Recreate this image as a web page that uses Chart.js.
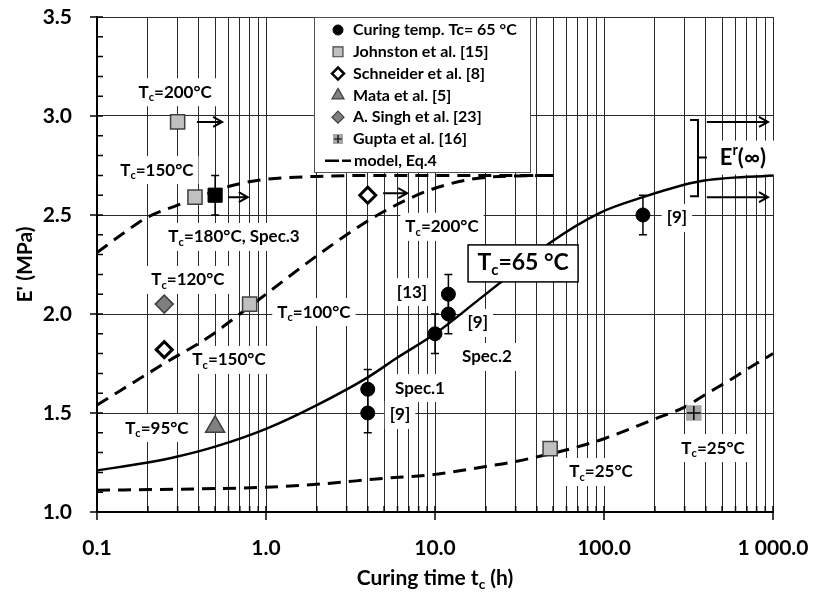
<!DOCTYPE html>
<html lang="en">
<head>
<meta charset="UTF-8">
<title>E' versus curing time</title>
<script src="https://cdn.jsdelivr.net/npm/chart.js@4.4.0/dist/chart.umd.min.js"></script>
<style>
  body { margin: 0; background: #fff; }
  canvas { display: block; }
</style>
</head>
<body>
<canvas id="chart" width="813" height="599"></canvas>
<script>
// curing temp. Tc = 65 °C
const cureT = [4, 4, 10, 12, 12, 170];
const cureE = [1.62, 1.5, 1.9, 2.0, 2.1, 2.5];
const cureErr = [0.1, 0.1, 0.1, 0.1, 0.1, 0.1];
// Tc = 180 °C, Spec.3
const spec3T = [0.5];
const spec3E = [2.6];
const spec3Err = [0.1];
// literature
const johnstonT = [0.3, 0.38, 0.8, 48];
const johnstonE = [2.97, 2.59, 2.05, 1.32];
const schneiderT = [0.25, 4];
const schneiderE = [1.82, 2.6];
const mataT = [0.5];
const mataE = [1.43];
const singhT = [0.25];
const singhE = [2.05];
const guptaT = [340];
const guptaE = [1.5];

// model, Eq.4
const model65T = [0.1, 0.2, 0.3, 0.5, 1, 2, 4, 6, 10, 18, 30, 48, 94, 170, 370, 1000];
const model65E = [1.21, 1.25, 1.28, 1.33, 1.42, 1.54, 1.68, 1.78, 1.9, 2.07, 2.22, 2.36, 2.51, 2.59, 2.67, 2.7];
const modelHighT = [0.1, 0.15, 0.2, 0.3, 0.4, 0.64, 1, 2, 5, 50];
const modelHighE = [2.31, 2.42, 2.49, 2.55, 2.59, 2.65, 2.68, 2.695, 2.7, 2.7];
const modelMidT = [0.1, 0.25, 0.47, 0.7, 1, 1.7, 3, 4.8, 9.6, 20, 50];
const modelMidE = [1.54, 1.75, 1.89, 2.0, 2.1, 2.25, 2.4, 2.51, 2.63, 2.69, 2.7];
const modelLowT = [0.1, 0.3, 1, 2, 5, 10, 20, 28, 41, 64, 100, 200, 300, 410, 540, 730, 1000];
const modelLowE = [1.11, 1.115, 1.125, 1.14, 1.17, 1.19, 1.23, 1.25, 1.28, 1.32, 1.37, 1.47, 1.53, 1.6, 1.66, 1.73, 1.8];

// axes
const xTickValues = [0.1, 1, 10, 100, 1000];
const xTickLabels = ['0.1', '1.0', '10.0', '100.0', '1 000.0'];
const yTickValues = [1.0, 1.5, 2.0, 2.5, 3.0, 3.5];
const yTickLabels = ['1.0', '1.5', '2.0', '2.5', '3.0', '3.5'];

// annotations ( _ = subscript, ^ = superscript for next char )
const noteText = ['T_c=200°C', 'T_c=150°C', 'T_c=180°C, Spec.3', 'T_c=120°C', 'T_c=100°C',
  'T_c=150°C', 'T_c=95°C', 'T_c=200°C', '[13]', '[9]', 'Spec.2', 'Spec.1', '[9]', '[9]',
  'T_c=25°C', 'T_c=25°C'];
const noteT = [0.29, 0.226, 0.647, 0.345, 1.92, 0.604, 0.226, 11.0, 7.31, 17.9, 20.3, 8.15, 6.21, 270, 96, 442];
const noteE = [3.12, 2.727, 2.389, 2.172, 2.01, 1.768, 1.424, 2.44, 2.111, 1.955, 1.783, 1.626, 1.49, 2.485, 1.202, 1.323];

// arrows toward longer curing time
const arrowFrom = [0.39, 0.596, 4.93, 406, 406];
const arrowTo = [0.55, 0.78, 6.85, 934, 934];
const arrowE = [2.97, 2.59, 2.61, 2.97, 2.59];

const legendLabels = ['Curing temp. Tc= 65 °C', 'Johnston et al. [15]', 'Schneider et al. [8]',
  'Mata et al. [5]', 'A. Singh et al. [23]', 'Gupta et al. [16]', 'model, Eq.4'];

const FONT = 'Lato, "Open Sans", sans-serif';
const xy = (ts, es) => ts.map((t, i) => ({ x: t, y: es[i] }));

const logTicks = [];
for (let d = -1; d <= 2; d++) {
  for (let k = 1; k <= 9; k++) logTicks.push(Number((k * Math.pow(10, d)).toPrecision(6)));
}
logTicks.push(1000);
const yTicks = [];
for (let i = 0; i <= 25; i++) yTicks.push(Number((1 + i * 0.1).toFixed(1)));

function drawRich(ctx, str, x, y, size, align, measureOnly) {
  const segs = [];
  for (let i = 0; i < str.length; i++) {
    const ch = str[i];
    if ((ch === '_' || ch === '^') && i + 1 < str.length) {
      segs.push({ t: str[i + 1], m: ch === '_' ? 'sub' : 'sup' });
      i++;
    } else if (segs.length && segs[segs.length - 1].m === 'n') {
      segs[segs.length - 1].t += ch;
    } else {
      segs.push({ t: ch, m: 'n' });
    }
  }
  let w = 0;
  segs.forEach(s => {
    ctx.font = 'bold ' + (s.m === 'n' ? size : size * 0.65) + 'px ' + FONT;
    s.w = ctx.measureText(s.t).width;
    w += s.w;
  });
  if (measureOnly) return w;
  let cx = align === 'left' ? x : x - w / 2;
  ctx.textAlign = 'left';
  ctx.textBaseline = 'middle';
  segs.forEach(s => {
    ctx.font = 'bold ' + (s.m === 'n' ? size : size * 0.65) + 'px ' + FONT;
    const dy = s.m === 'sub' ? size * 0.32 : s.m === 'sup' ? -size * 0.32 : 0;
    ctx.fillText(s.t, cx, y + dy);
    cx += s.w;
  });
  return w;
}

function errorBars(ctx, xs, ys, ts, es, errs) {
  ctx.strokeStyle = '#000';
  ctx.lineWidth = 1.5;
  ts.forEach((t, i) => {
    const px = xs.getPixelForValue(t);
    const top = ys.getPixelForValue(es[i] + errs[i]);
    const bot = ys.getPixelForValue(es[i] - errs[i]);
    ctx.beginPath();
    ctx.moveTo(px, top); ctx.lineTo(px, bot);
    ctx.moveTo(px - 4, top); ctx.lineTo(px + 4, top);
    ctx.moveTo(px - 4, bot); ctx.lineTo(px + 4, bot);
    ctx.stroke();
  });
}

function marker(ctx, style, x, y) {
  if (style === 'gupta') {
    ctx.fillStyle = '#a6a6a6';
    ctx.fillRect(x - 5, y - 5, 10, 10);
    ctx.strokeStyle = '#000';
    ctx.lineWidth = 1.2;
    ctx.beginPath();
    ctx.moveTo(x - 4, y); ctx.lineTo(x + 4, y);
    ctx.moveTo(x, y - 4); ctx.lineTo(x, y + 4);
    ctx.stroke();
    return;
  }
  const map = {
    cure: ['circle', 5, '#000', '#000', 1],
    johnston: ['rect', 7, '#c0c0c0', '#404040', 1.2],
    schneider: ['rectRot', 6, '#fff', '#000', 2.5],
    mata: ['triangle', 7, '#808080', '#404040', 1.2],
    singh: ['rectRot', 6, '#7f7f7f', '#404040', 1.2]
  };
  const m = map[style];
  ctx.fillStyle = m[2];
  ctx.strokeStyle = m[3];
  ctx.lineWidth = m[4];
  Chart.helpers.drawPoint(ctx, { pointStyle: m[0], radius: m[1], borderWidth: m[4], rotation: 0 }, x, y);
}

const annotate = {
  id: 'annotate',
  beforeDatasetsDraw(chart) {
    const ctx = chart.ctx, xs = chart.scales.x, ys = chart.scales.y;
    ctx.save();
    ctx.fillStyle = '#fff';
    noteText.forEach((s, i) => {
      const w = drawRich(ctx, s, 0, 0, 17, 'left', true);
      const px = xs.getPixelForValue(noteT[i]), py = ys.getPixelForValue(noteE[i]);
      ctx.fillStyle = '#fff';
      ctx.fillRect(px - w / 2 - 5, py - 14, w + 10, 28);
    });
    // bracket label background
    const bm = ys.getPixelForValue(2.79), bl = xs.getPixelForValue(664);
    ctx.fillRect(bl - 33, bm - 17, 66, 34);
    errorBars(ctx, xs, ys, cureT, cureE, cureErr);
    errorBars(ctx, xs, ys, spec3T, spec3E, spec3Err);
    ctx.restore();
  },
  afterDatasetsDraw(chart) {
    const ctx = chart.ctx, xs = chart.scales.x, ys = chart.scales.y;
    const a = chart.chartArea;
    ctx.save();
    ctx.fillStyle = '#000';
    noteText.forEach((s, i) => {
      drawRich(ctx, s, xs.getPixelForValue(noteT[i]), ys.getPixelForValue(noteE[i]), 17, 'center');
    });

    // Tc = 65 °C box
    const bx = xs.getPixelForValue(33.2), by = ys.getPixelForValue(2.258);
    ctx.fillStyle = '#fff';
    ctx.fillRect(bx - 55, by - 18, 110, 37);
    ctx.strokeStyle = '#000';
    ctx.lineWidth = 1.5;
    ctx.strokeRect(bx - 55, by - 18, 110, 37);
    ctx.fillStyle = '#000';
    drawRich(ctx, 'T_c=65 °C', bx, by, 23, 'center');

    // arrows
    ctx.strokeStyle = '#000';
    ctx.lineWidth = 2;
    arrowFrom.forEach((t, i) => {
      const x1 = xs.getPixelForValue(t), x2 = xs.getPixelForValue(arrowTo[i]);
      const y = ys.getPixelForValue(arrowE[i]);
      ctx.beginPath();
      ctx.moveTo(x1, y); ctx.lineTo(x2, y);
      ctx.moveTo(x2 - 9, y - 5); ctx.lineTo(x2, y); ctx.lineTo(x2 - 9, y + 5);
      ctx.stroke();
    });

    // E^r(∞) bracket
    const brx = xs.getPixelForValue(360), brl = xs.getPixelForValue(323), brm = xs.getPixelForValue(406);
    const bt = ys.getPixelForValue(2.98), bb = ys.getPixelForValue(2.595), bm = ys.getPixelForValue(2.79);
    ctx.beginPath();
    ctx.moveTo(brl, bt); ctx.lineTo(brx, bt); ctx.lineTo(brx, bb); ctx.lineTo(brl, bb);
    ctx.moveTo(brx, bm); ctx.lineTo(brm, bm);
    ctx.stroke();
    drawRich(ctx, 'E^r(∞)', xs.getPixelForValue(664), bm, 22, 'center');

    // axis tick marks
    ctx.lineWidth = 1.5;
    ctx.beginPath();
    yTicks.forEach(v => {
      const py = ys.getPixelForValue(v);
      const major = Math.abs(v * 2 - Math.round(v * 2)) < 1e-6;
      ctx.moveTo(major ? a.left - 7 : a.left, py);
      ctx.lineTo(a.left + 6, py);
    });
    logTicks.forEach(v => {
      const px = xs.getPixelForValue(v);
      const major = xTickValues.some(d => Math.abs(d - v) < 1e-9);
      ctx.moveTo(px, major ? a.bottom + 8 : a.bottom);
      ctx.lineTo(px, a.bottom - 6);
    });
    ctx.stroke();

    // legend
    const lx = 314, ly = a.top, lw = 216, lh = 155;
    ctx.fillStyle = '#fff';
    ctx.fillRect(lx, ly, lw, lh);
    ctx.strokeStyle = '#505050';
    ctx.lineWidth = 1;
    ctx.strokeRect(lx + 0.5, ly + 0.5, lw, lh);
    const styles = ['cure', 'johnston', 'schneider', 'mata', 'singh', 'gupta'];
    legendLabels.forEach((s, i) => {
      const yy = ly + 13 + i * 21.8;
      if (i < 6) {
        ctx.save();
        marker(ctx, styles[i], 338, yy);
        ctx.restore();
      } else {
        ctx.strokeStyle = '#000';
        ctx.lineWidth = 2.5;
        ctx.setLineDash([14, 3, 9, 3]);
        ctx.beginPath();
        ctx.moveTo(325, yy); ctx.lineTo(353, yy);
        ctx.stroke();
        ctx.setLineDash([]);
      }
      ctx.fillStyle = '#000';
      ctx.font = 'bold 16px ' + FONT;
      ctx.textAlign = 'left';
      ctx.textBaseline = 'middle';
      ctx.fillText(s, i < 6 ? 353 : 354, yy);
    });

    // axis titles
    ctx.fillStyle = '#000';
    drawRich(ctx, 'Curing time t_c (h)', (a.left + a.right) / 2, 578, 21, 'center');
    ctx.save();
    ctx.translate(25, (a.top + a.bottom) / 2);
    ctx.rotate(-Math.PI / 2);
    drawRich(ctx, "E' (MPa)", 0, 0, 21, 'center');
    ctx.restore();
    ctx.restore();
  }
};

const pointSet = (label, data, style, radius, bg, border, bw, order) => ({
  label, data, pointStyle: style, pointRadius: radius, pointHoverRadius: radius,
  backgroundColor: bg, borderColor: border, pointBorderWidth: bw, borderWidth: bw,
  showLine: false, order: order || 0
});
const lineSet = (label, data, width, dash) => ({
  label, data, showLine: true, pointRadius: 0, borderColor: '#000', borderWidth: width,
  borderDash: dash, cubicInterpolationMode: 'monotone', fill: false, order: 1
});

const ctx = document.getElementById('chart').getContext('2d');
new Chart(ctx, {
  type: 'scatter',
  data: {
    datasets: [
      lineSet('model Tc=65', xy(model65T, model65E), 2.5, []),
      lineSet('model high', xy(modelHighT, modelHighE), 3, [13, 8]),
      lineSet('model mid', xy(modelMidT, modelMidE), 3, [13, 8]),
      lineSet('model low', xy(modelLowT, modelLowE), 3, [13, 8]),
      pointSet('Curing temp. Tc= 65 °C', xy(cureT, cureE), 'circle', 7, '#000', '#000', 1),
      pointSet('Spec.3', xy(spec3T, spec3E), 'rect', 10, '#000', '#000', 1),
      pointSet('Johnston et al. [15]', xy(johnstonT, johnstonE), 'rect', 10, '#c0c0c0', '#404040', 1.5),
      pointSet('Schneider et al. [8]', xy(schneiderT, schneiderE), 'rectRot', 8, '#fff', '#000', 3),
      pointSet('Mata et al. [5]', xy(mataT, mataE), 'triangle', 11, '#808080', '#404040', 1.5),
      pointSet('A. Singh et al. [23]', xy(singhT, singhE), 'rectRot', 9, '#7f7f7f', '#404040', 1.5),
      pointSet('Gupta et al. [16]', xy(guptaT, guptaE), 'rect', 11, '#a6a6a6', '#a6a6a6', 0),
      pointSet('Gupta cross', xy(guptaT, guptaE), 'cross', 7, '#000', '#000', 1.5, -1)
    ]
  },
  options: {
    responsive: false,
    animation: false,
    layout: { padding: { left: 0, right: 40, top: 17, bottom: 0 } },
    plugins: { legend: { display: false }, tooltip: { enabled: false } },
    scales: {
      x: {
        type: 'logarithmic',
        min: 0.1,
        max: 1000,
        afterBuildTicks: s => { s.ticks = logTicks.map(v => ({ value: v })); },
        afterFit: s => { s.height = 87; s.paddingLeft = 0; s.paddingRight = 0; },
        grid: { color: '#2a2a2a', lineWidth: 1, drawTicks: false },
        border: { color: '#000', width: 2 },
        ticks: {
          autoSkip: false, maxRotation: 0, padding: 24, color: '#000',
          font: { family: FONT, size: 21, weight: 'bold' },
          callback: v => {
            const i = xTickValues.findIndex(d => Math.abs(d - v) < 1e-9);
            return i >= 0 ? xTickLabels[i] : '';
          }
        }
      },
      y: {
        min: 1,
        max: 3.5,
        afterBuildTicks: s => { s.ticks = yTicks.map(v => ({ value: v })); },
        afterFit: s => { s.width = 97; s.paddingTop = 0; s.paddingBottom = 0; },
        grid: {
          drawTicks: false, lineWidth: 1,
          color: c => (Math.abs(c.tick.value * 2 - Math.round(c.tick.value * 2)) < 1e-6 ? '#2a2a2a' : 'rgba(0,0,0,0)')
        },
        border: { color: '#000', width: 2 },
        ticks: {
          autoSkip: false, padding: 25, color: '#000',
          font: { family: FONT, size: 21, weight: 'bold' },
          callback: v => {
            const i = yTickValues.findIndex(d => Math.abs(d - v) < 1e-6);
            return i >= 0 ? yTickLabels[i] : '';
          }
        }
      }
    }
  },
  plugins: [annotate]
});
</script>
</body>
</html>
